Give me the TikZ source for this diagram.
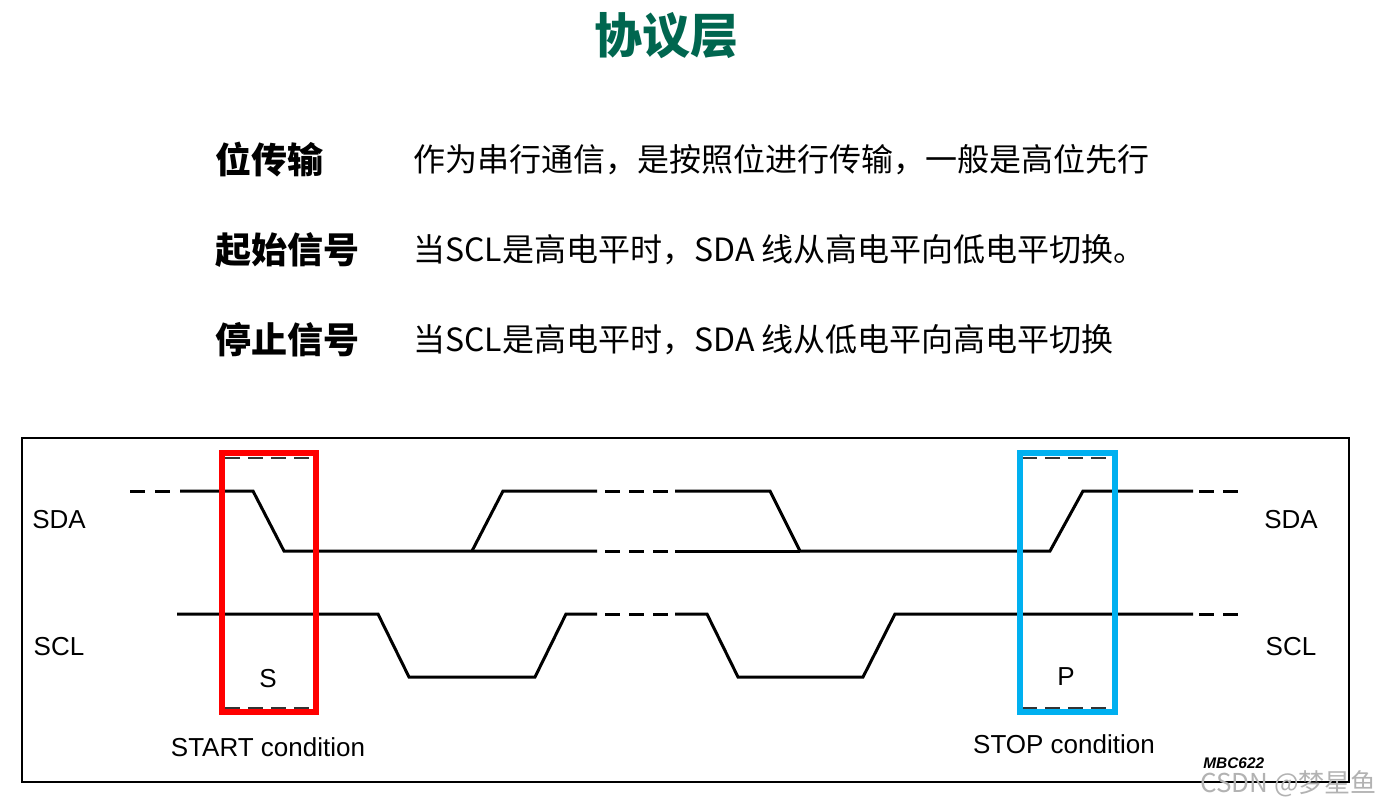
\documentclass[tikz,border=0pt]{standalone}
\usepackage{fontspec}
\setsansfont{Liberation Sans}
\newfontfamily\cjk{Noto Sans CJK SC}
\usetikzlibrary{positioning}
\definecolor{TitleGreen}{HTML}{00664F}
\definecolor{StartRed}{HTML}{FF0000}
\definecolor{StopBlue}{HTML}{00B0F0}
\newcommand{\SigLbl}[4]{%
  \node[anchor=base,inner sep=0pt,font=\sffamily\fontsize{13}{15}\selectfont] (#3) at (#1,#2) {#4};%
}
\tikzset{
  wave/.style={line width=1.5pt,line join=miter},
  wavedash/.style={line width=1.5pt,dash pattern=on 7.5pt off 4.5pt},
  boxdash/.style={line width=1pt,black!80,dash pattern=on 7.5pt off 4pt},
  rowhead/.style={anchor=west,inner sep=0pt,font=\cjk\bfseries\fontsize{18}{20}\selectfont},
  rowtext/.style={anchor=west,inner sep=0pt,font=\cjk\fontsize{16}{18}\selectfont}
}

\begin{document}
\begin{tikzpicture}[x=0.5pt,y=-0.5pt]
\useasboundingbox (0,0) rectangle (1383,811);
\node[font=\cjk\bfseries\fontsize{24}{26}\selectfont,text=TitleGreen] (title) at (666,36) {协议层};
\node[rowhead] (bithead) at (215,160) {位传输};
\node[rowtext] (bittext) at (413,160) {作为串行通信，是按照位进行传输，一般是高位先行};
\node[rowhead] (starthead) at (215,250) {起始信号};
\node[rowtext] (starttext) at (413,250) {当SCL是高电平时，SDA 线从高电平向低电平切换。};
\node[rowhead] (stophead) at (215,340) {停止信号};
\node[rowtext] (stoptext) at (413,340) {当SCL是高电平时，SDA 线从低电平向高电平切换};
\draw[line width=1.25pt] (22,438) rectangle (1349,782);
\foreach \x/\s in {59/l,1291/r} {
  \SigLbl{\x}{528}{sda\s}{SDA}
  \SigLbl{\x}{655}{scl\s}{SCL}
}
\draw[wave] (180,491) -- (253,491) -- (284,551) -- (597,551);
\draw[wave] (472,551) -- (503,491) -- (597,491);
\draw[wave] (675,491) -- (770,491) -- (800,551) -- (1050,551) -- (1083,491) -- (1193,491);
\draw[wave] (675,551) -- (800,551);
\draw[wave] (177,614) -- (378,614) -- (409,677) -- (535,677) -- (566,614) -- (597,614);
\draw[wave] (675,614) -- (707,614) -- (738,677) -- (863,677) -- (895,614) -- (1193,614);
\draw[wavedash,dash pattern=on 7.5pt off 5pt] (130,491) -- (170,491);
\foreach \y in {491,551,614} {
  \draw[wavedash] (605,\y) -- (668,\y);
}
\foreach \y in {491,614} {
  \draw[wavedash] (1199,\y) -- (1238,\y);
}
\foreach \y in {458,708} {
  \draw[boxdash] (225,\y) -- (313,\y);
  \draw[boxdash] (1022,\y) -- (1112,\y);
}
\draw[StartRed,line width=3pt] (222,453) rectangle (316,712);
\draw[StopBlue,line width=3pt] (1019.5,453) rectangle (1115,712);
\SigLbl{268}{687}{slbl}{S}
\SigLbl{1066}{685}{plbl}{P}
\SigLbl{268}{756}{startlbl}{START condition}
\SigLbl{1064}{753}{stoplbl}{STOP condition}
\node[anchor=base west,inner sep=0pt,font=\sffamily\bfseries\itshape\fontsize{7.7}{9}\selectfont] (fig) at (1203,768) {MBC622};
\node[anchor=base east,inner sep=0pt,text=black!30,font=\cjk\fontsize{13}{15}\selectfont] (mark) at (1377,792) {CSDN @梦星鱼};
\end{tikzpicture}
\end{document}
